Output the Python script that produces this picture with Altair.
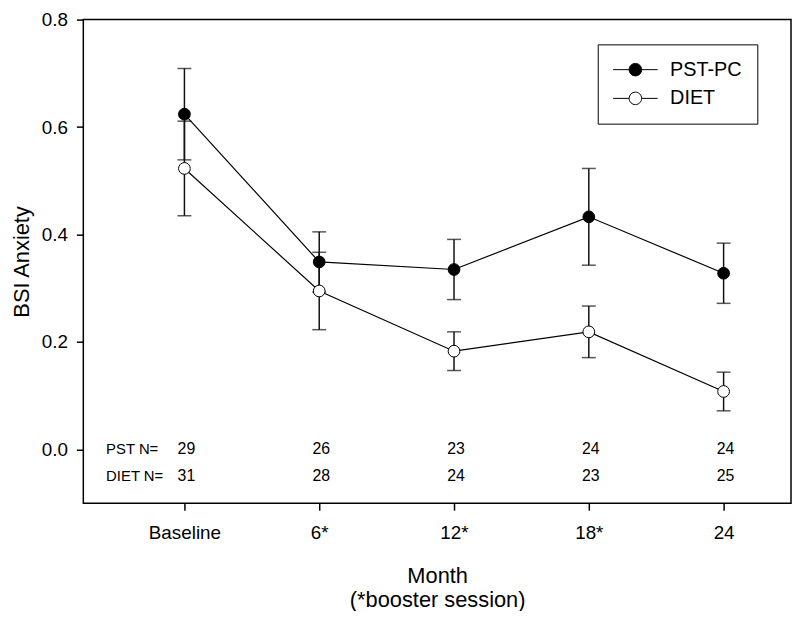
import altair as alt
import pandas as pd

FONT = "Liberation Sans, Arial, sans-serif"

months = ["Baseline", "6*", "12*", "18*", "24"]
groups = ["PST-PC", "DIET"]
pst_mean = [0.624, 0.349, 0.335, 0.433, 0.328]
pst_err = [0.085, 0.056, 0.056, 0.090, 0.056]
diet_mean = [0.523, 0.295, 0.183, 0.219, 0.108]
diet_err = [0.088, 0.072, 0.036, 0.048, 0.036]
pst_n = [29, 26, 23, 24, 24]
diet_n = [31, 28, 24, 23, 25]
n_row_labels = ["PST N=", "DIET N="]
n_row_y = [0.0, -0.05]
y_ticks = [0.0, 0.2, 0.4, 0.6, 0.8]

rows = []
for g, means, errs in [(groups[0], pst_mean, pst_err), (groups[1], diet_mean, diet_err)]:
    for i, (m, e) in enumerate(zip(means, errs)):
        rows.append(dict(group=g, idx=i, month=months[i], mean=m, lo=m - e, hi=m + e))
df = pd.DataFrame(rows)

nrows = []
for lab, yv, ns in [(n_row_labels[0], n_row_y[0], pst_n), (n_row_labels[1], n_row_y[1], diet_n)]:
    for i, n in enumerate(ns):
        nrows.append(dict(row=lab, idx=i, ypos=yv, n=str(n)))
ndf = pd.DataFrame(nrows)
ldf = pd.DataFrame({"row": n_row_labels, "ypos": n_row_y})

label_expr = "[" + ",".join("'" + m + "'" for m in months) + "][datum.value]"

xscale = alt.Scale(domain=[-0.75, len(months) - 0.5], nice=False, zero=False)
yscale = alt.Scale(domain=[-0.1, 0.8], nice=False, zero=False)

X = alt.X("idx:Q", scale=xscale,
          axis=alt.Axis(values=list(range(len(months))), labelExpr=label_expr,
                        title=["Month", "(*booster session)"], titleFontSize=22,
                        titleLineHeight=24, labelPadding=14, titlePadding=23))
Yaxis = alt.Axis(values=y_ticks, format=".1f", title="BSI Anxiety", titleFontSize=22,
                 labelPadding=9, titlePadding=8)

base = alt.Chart(df)

rules = base.mark_rule(color="#111", strokeWidth=1.5).encode(
    x=X, y=alt.Y("lo:Q", scale=yscale, axis=Yaxis), y2="hi:Q")
cap_lo = base.mark_tick(orient="horizontal", size=14, thickness=1.5, color="#111").encode(
    x="idx:Q", y="lo:Q")
cap_hi = base.mark_tick(orient="horizontal", size=14, thickness=1.5, color="#111").encode(
    x="idx:Q", y="hi:Q")
lines = base.mark_line(color="black", strokeWidth=1.2).encode(
    x="idx:Q", y="mean:Q", detail="group:N")

# symbol layout box is 20px (size 400 -> 10px per unit); the drawn glyph is a 45px line with a dot
legend_path = ("M-1,0H0.62M1.88,0H3.5"
               "M0.62,0A0.63,0.63,0,1,1,1.88,0A0.63,0.63,0,1,1,0.62,0Z")
points = base.mark_point(filled=True, shape="circle", size=140, stroke="black",
                         strokeWidth=1, opacity=1).encode(
    x="idx:Q", y="mean:Q",
    fill=alt.Fill("group:N", scale=alt.Scale(domain=groups, range=["black", "white"]),
                  legend=alt.Legend(title=None, orient="none", legendX=519, legendY=25,
                                    symbolType=legend_path, symbolSize=400,
                                    symbolStrokeColor="black", symbolStrokeWidth=1,
                                    symbolOpacity=1,
                                    labelFont=FONT, labelFontSize=20, labelColor="black",
                                    labelOffset=37, strokeColor="black", fillColor="white",
                                    padding=15, rowPadding=8)))

ntext = alt.Chart(ndf).mark_text(font=FONT, fontSize=16, color="black", dx=2,
                                 baseline="middle").encode(
    x="idx:Q", y="ypos:Q", text="n:N")
ltext = alt.Chart(ldf).mark_text(font=FONT, fontSize=15, color="black", align="left",
                                 baseline="middle").encode(
    x=alt.value(23), y="ypos:Q", text="row:N")

chart = alt.layer(rules, cap_lo, cap_hi, lines, points, ntext, ltext).properties(
    width=714, height=488,
    padding={"left": 76, "top": 9, "right": 1, "bottom": 106},
    autosize=alt.AutoSizeParams(type="none"),
).configure_view(stroke="black", strokeWidth=1.5).configure_axis(
    domain=False, grid=False, ticks=True, tickColor="black", tickWidth=1.5, tickSize=7,
    labelFont=FONT, labelFontSize=19, labelColor="black",
    titleFont=FONT, titleColor="black", titleFontWeight="normal",
)

chart.save("out.html", embed_options={"renderer": "svg", "actions": False})
